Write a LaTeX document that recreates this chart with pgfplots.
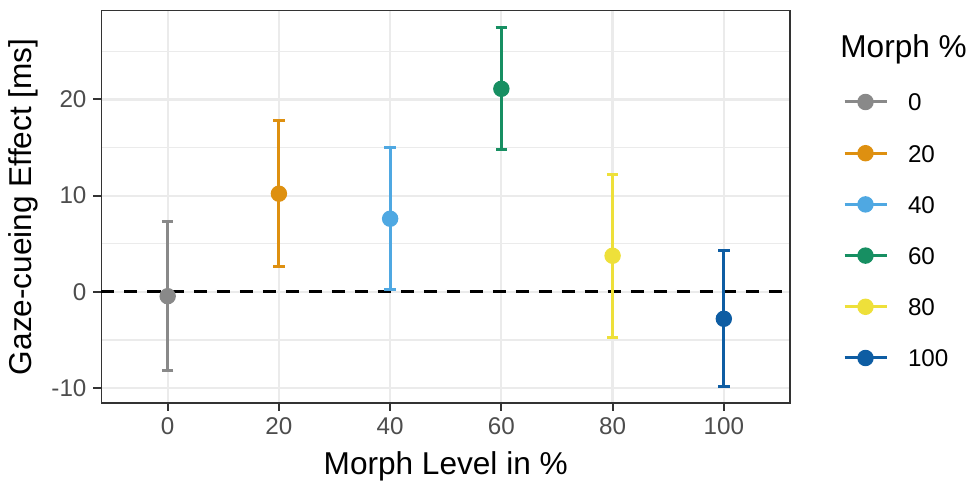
\documentclass[border=0pt]{standalone}
\usepackage{pgfplots}
\pgfplotsset{compat=1.18}
\usepackage{fontspec}
\setmainfont{Liberation Sans}
\definecolor{cgray}{HTML}{898989}
\definecolor{corange}{HTML}{DE9010}
\definecolor{csky}{HTML}{4FA8E2}
\definecolor{cgreen}{HTML}{178F62}
\definecolor{cyellow}{HTML}{EEE03A}
\definecolor{cblue}{HTML}{0E5DA3}
\definecolor{gridgray}{HTML}{EBEBEB}
\definecolor{framec}{HTML}{333333}
\definecolor{tickc}{HTML}{4D4D4D}
\pgfplotsset{
  pt/.style={color=#1, line width=1.5pt, mark=*, mark size=3.8pt,
    mark options={solid, fill=#1, draw=#1, line width=0.6pt},
    error bars/.cd, y dir=both, y explicit, error mark=|,
    error bar style={line width=1.5pt, color=#1},
    error mark options={mark size=2.9pt, line width=1.5pt, color=#1}}
}
\begin{document}
\begin{tikzpicture}
\begin{axis}[
  scale only axis, width=344.25pt, height=196.25pt,
  xmin=-11.9, xmax=111.9, ymin=-11.55, ymax=29.24,
  xtick={0,20,40,60,80,100}, xticklabels={0,20,40,60,80,100},
  ytick={-10,0,10,20}, yticklabels={-10,0,10,20},
  minor ytick={-5,5,15,25},
  xtick pos=bottom, ytick pos=left,
  xmajorgrids, ymajorgrids, yminorgrids,
  major grid style={color=gridgray, line width=1.1pt},
  minor grid style={color=gridgray, line width=0.6pt},
  axis line style={draw=framec, line width=0.6pt},
  tick align=outside, major tick length=4pt, minor tick length=0pt,
  major tick style={color=framec, line width=1pt},
  tick label style={font=\fontsize{12.1}{14}\selectfont, color=tickc},
  every axis x label/.style={at={(axis description cs:0.5,-0.1832)}, anchor=base, font=\fontsize{15.8}{18}\selectfont},
  every axis y label/.style={at={(axis description cs:-0.1014,0.5)}, rotate=90, anchor=base, font=\fontsize{15.8}{18}\selectfont},
  xlabel={Morph Level in \%},
  ylabel={Gaze-cueing Effect [ms]},
  clip=false,
  legend image code/.code={\draw[mark repeat=2,mark phase=2,#1] plot coordinates {(0pt,0pt) (10.5pt,0pt) (21pt,0pt)};},
  legend cell align=left,
  legend style={at={(axis description cs:1.07698,0.7898)}, anchor=north west, draw=none, fill=none,
    inner sep=0pt, outer sep=0pt, row sep=16.6pt, column sep=10pt,
    font=\fontsize{12.1}{14}\selectfont,
    cells={anchor=west},
    nodes={inner sep=0pt, text height=9pt, text depth=0pt}},
]
\addplot[black, dashed, dash pattern=on 6.5pt off 5pt, line width=1.4pt, forget plot] coordinates {(-11.9,0) (111.9,0)};
\addplot[pt=cgray] coordinates {(0,-0.45) +- (0,7.75)};
\addlegendentry{0}
\addplot[pt=corange] coordinates {(20,10.2) +- (0,7.6)};
\addlegendentry{20}
\addplot[pt=csky] coordinates {(40,7.6) +- (0,7.4)};
\addlegendentry{40}
\addplot[pt=cgreen] coordinates {(60,21.1) +- (0,6.35)};
\addlegendentry{60}
\addplot[pt=cyellow] coordinates {(80,3.75) +- (0,8.45)};
\addlegendentry{80}
\addplot[pt=cblue] coordinates {(100,-2.8) +- (0,7.05)};
\addlegendentry{100}
\node[anchor=base west, font=\fontsize{15.8}{18}\selectfont, inner sep=0pt] at ([xshift=25pt, yshift=-23.4pt]rel axis cs:1,1) {Morph \%};
\end{axis}
\pgfresetboundingbox
\path ([shift={(-50.75pt,-44pt)}]current axis.south west) rectangle ([shift={(92pt,5.25pt)}]current axis.north east);
\end{tikzpicture}
\end{document}
